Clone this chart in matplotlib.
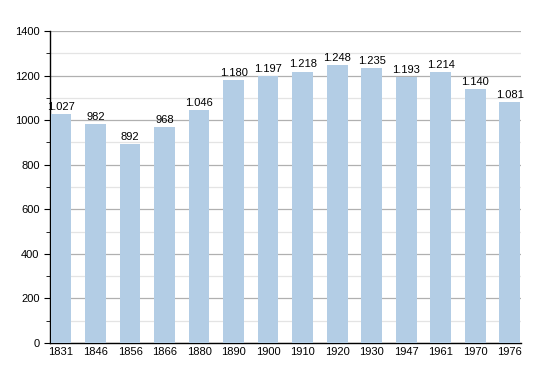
import numpy as np
import matplotlib.pyplot as plt
from matplotlib.ticker import MultipleLocator

years = ['1831', '1846', '1856', '1866', '1880', '1890', '1900',
         '1910', '1920', '1930', '1947', '1961', '1970', '1976']
population = [1027, 982, 892, 968, 1046, 1180, 1197,
              1218, 1248, 1235, 1193, 1214, 1140, 1081]

plt.rcParams['font.family'] = ['Liberation Sans', 'DejaVu Sans']

fig = plt.figure(figsize=(5.5, 3.73), dpi=100)
ax = fig.add_axes([0.0909, 0.0804, 0.856, 0.8366])

x = np.arange(len(years))
ax.bar(x, population, width=0.6, color='#b3cde5', zorder=3)

for xi, v in zip(x, population):
    label = f"{v // 1000}.{v % 1000:03d}" if v >= 1000 else str(v)
    ax.text(xi, v + 10, label, ha='center', va='bottom', fontsize=8, zorder=4)

ax.set_xlim(-0.32, len(years) - 0.68)
ax.set_ylim(0, 1400)
ax.set_xticks(x)
ax.set_xticklabels(years)
ax.yaxis.set_major_locator(MultipleLocator(200))
ax.yaxis.set_minor_locator(MultipleLocator(100))

ax.grid(axis='y', which='major', color='#b0b0b0', linewidth=0.9, zorder=0)
ax.grid(axis='y', which='minor', color='#e4e4e4', linewidth=0.9, zorder=0)

for side in ['top', 'right']:
    ax.spines[side].set_visible(False)
ax.spines['left'].set_linewidth(1.0)
ax.spines['bottom'].set_linewidth(1.0)

ax.tick_params(axis='x', length=0, labelsize=8, pad=3)
ax.tick_params(axis='y', which='major', length=4, labelsize=8)
ax.tick_params(axis='y', which='minor', length=3)

fig.savefig('out.png', dpi=100)
